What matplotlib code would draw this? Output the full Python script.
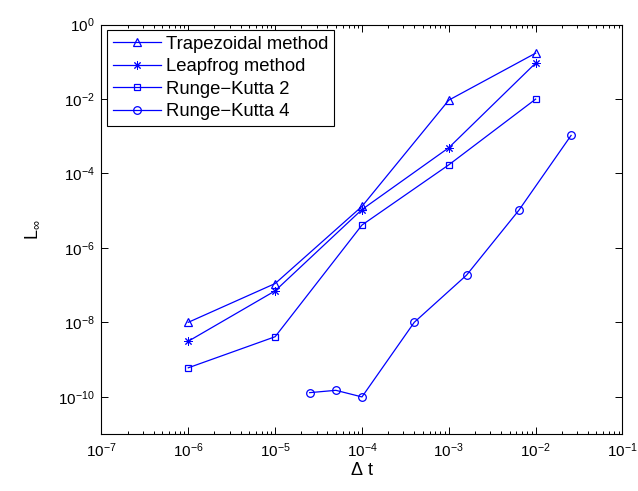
import matplotlib
matplotlib.use("Agg")
import matplotlib.pyplot as plt
import numpy as np
from matplotlib.ticker import LogLocator, FixedLocator, NullFormatter

plt.rcParams['font.family'] = ['Liberation Sans', 'DejaVu Sans']
plt.rcParams['mathtext.fontset'] = 'custom'
plt.rcParams['mathtext.rm'] = 'Liberation Sans'
plt.rcParams['mathtext.it'] = 'Liberation Sans:italic'

# step sizes
dt = [1e-6, 1e-5, 1e-4, 1e-3, 1e-2]
dt_rk4 = [2.5e-5, 5e-5, 1e-4, 4e-4, 1.6e-3, 6.4e-3, 2.56e-2]

# max errors
err_trap = [1.0e-8, 1.1e-7, 1.3e-5, 9.3e-3, 0.17]
err_leap = [3.1e-9, 7.0e-8, 1.07e-5, 4.9e-4, 0.092]
err_rk2 = [6.0e-10, 4.1e-9, 4.1e-6, 1.7e-4, 9.9e-3]
err_rk4 = [1.29e-10, 1.49e-10, 9.9e-11, 1.0e-8, 1.85e-7, 1.02e-5, 1.05e-3]

labels = ['Trapezoidal method', 'Leapfrog method', 'Runge\u2212Kutta 2', 'Runge\u2212Kutta 4']

xticks = [10.0**k for k in range(-7, 0)]
xticklabels = [r'$10^{-%d}$' % k for k in range(7, 0, -1)]
yticks = [10.0**k for k in range(-10, 1, 2)]
yticklabels = [r'$10^{-%d}$' % k for k in range(10, 0, -2)] + [r'$10^{0}$']

fig = plt.figure(figsize=(6.38, 4.91), dpi=100)
ax = fig.add_axes([0.159, 0.1161, 0.8167, 0.834])

blue = (0, 0, 1)
kw = dict(color=blue, lw=0.9, mfc='none')
ax.loglog(dt, err_trap, marker='^', ms=5.5, mew=0.9, label=labels[0], **kw)
ax.loglog(dt, err_leap, marker=(8, 2, 0), ms=6, mew=0.7, label=labels[1], **kw)
ax.loglog(dt, err_rk2, marker='s', ms=4.5, mew=0.9, label=labels[2], **kw)
ax.loglog(dt_rk4, err_rk4, marker='o', ms=5.5, mew=0.9, label=labels[3], **kw)

ax.set_xlim(1e-7, 1e-1)
ax.set_ylim(1e-11, 1e0)

ax.xaxis.set_major_locator(FixedLocator(xticks))
ax.xaxis.set_minor_locator(LogLocator(base=10, subs=np.arange(2, 10), numticks=20))
ax.xaxis.set_minor_formatter(NullFormatter())
ax.set_xticklabels(xticklabels)

ax.yaxis.set_major_locator(FixedLocator(yticks))
ax.yaxis.set_minor_locator(FixedLocator([]))
ax.set_yticklabels(yticklabels)

ax.tick_params(which='both', direction='in', top=True, right=True, labelsize=11, width=0.7)
ax.tick_params(which='major', length=5, pad=5)
ax.tick_params(which='minor', length=2.5)
for s in ax.spines.values():
    s.set_linewidth(0.8)

ax.set_xlabel(r'$\Delta$ t', fontsize=13, labelpad=2)
ax.set_ylabel(r'L$_{\infty}$', fontsize=13, labelpad=12)

leg = ax.legend(loc='upper left', bbox_to_anchor=(0.0106, 0.9866), borderaxespad=0,
                fontsize=13.3, fancybox=False, edgecolor='black', framealpha=1,
                handlelength=2.6, handletextpad=0.3, labelspacing=0.3,
                borderpad=0.3)
leg.get_frame().set_linewidth(0.8)

fig.savefig('out.png', dpi=100)
